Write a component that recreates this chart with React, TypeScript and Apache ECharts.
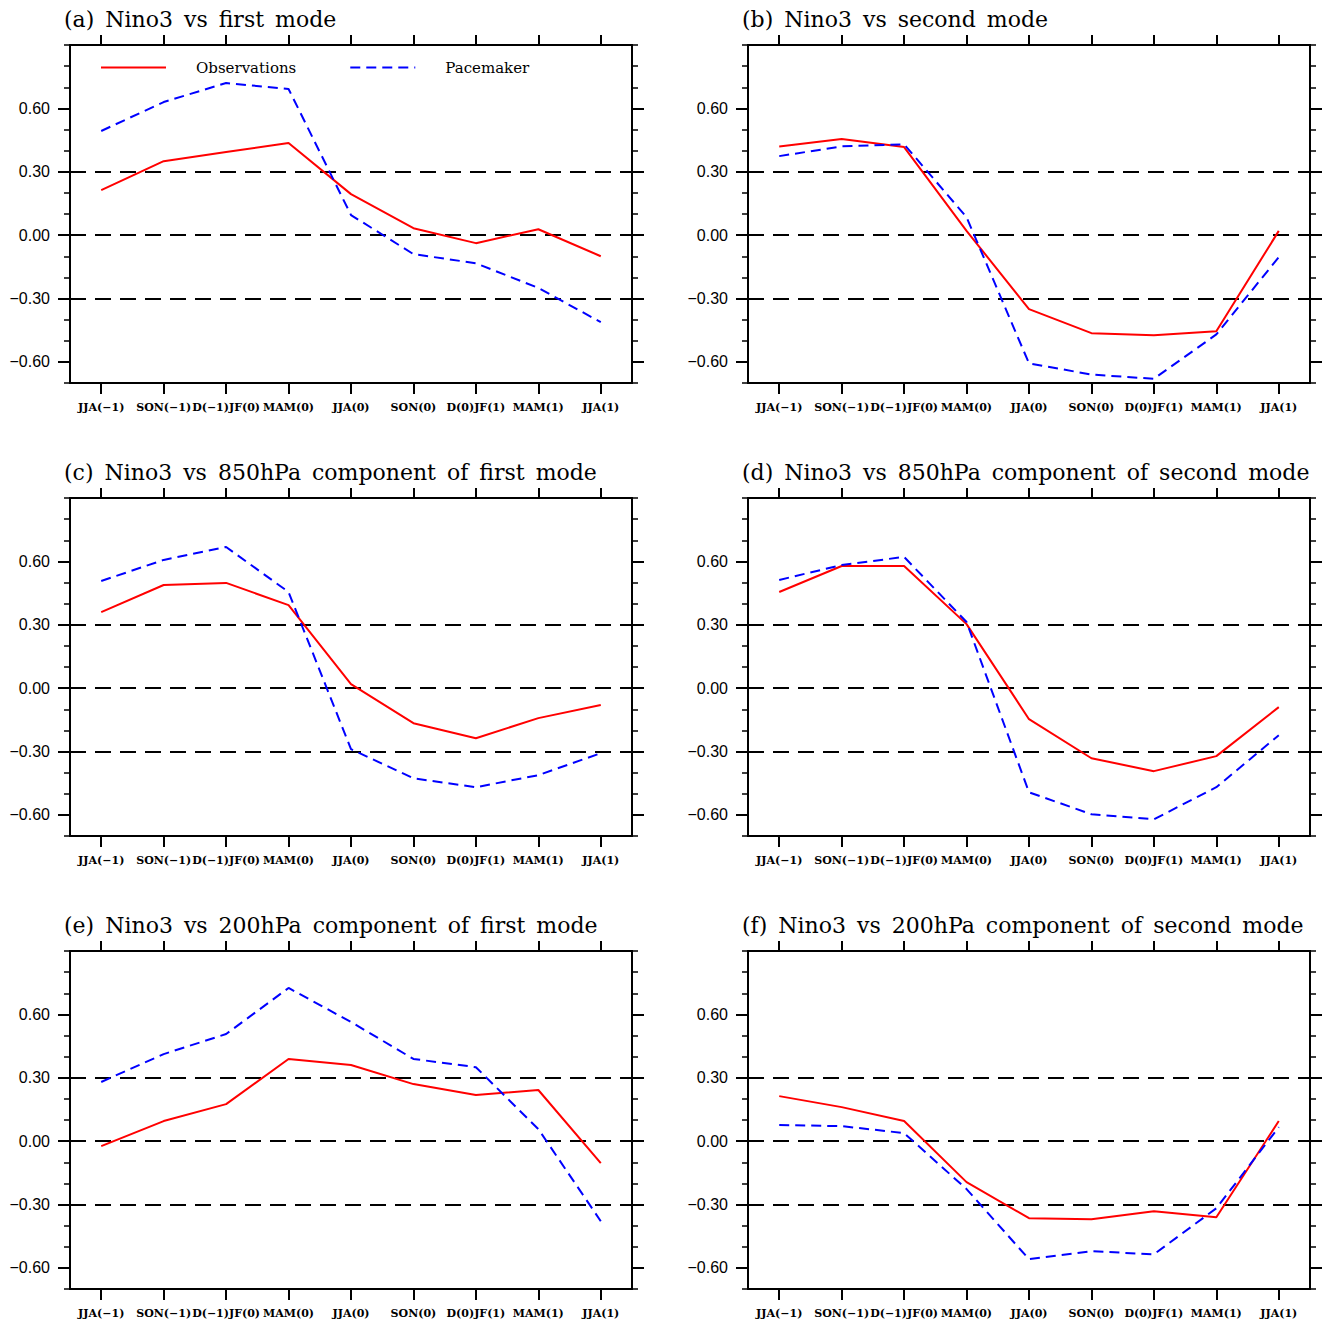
import React, { useEffect, useRef } from "react";
import * as echarts from "echarts";

const categories = ["JJA(\u22121)", "SON(\u22121)", "D(\u22121)JF(0)", "MAM(0)", "JJA(0)", "SON(0)", "D(0)JF(1)", "MAM(1)", "JJA(1)"];
const titles = [
  "(a) Nino3 vs first mode",
  "(b) Nino3 vs second mode",
  "(c) Nino3 vs 850hPa component of first mode",
  "(d) Nino3 vs 850hPa component of second mode",
  "(e) Nino3 vs 200hPa component of first mode",
  "(f) Nino3 vs 200hPa component of second mode",
];
const obsA = [0.213, 0.35, 0.393, 0.436, 0.194, 0.033, -0.038, 0.028, -0.1];
const paceA = [0.493, 0.63, 0.72, 0.692, 0.095, -0.09, -0.133, -0.25, -0.412];
const obsB = [0.42, 0.455, 0.417, 0.02, -0.35, -0.464, -0.474, -0.455, 0.02];
const paceB = [0.374, 0.42, 0.43, 0.085, -0.607, -0.66, -0.68, -0.47, -0.104];
const obsC = [0.36, 0.488, 0.498, 0.393, 0.019, -0.166, -0.237, -0.142, -0.08];
const paceC = [0.507, 0.607, 0.668, 0.455, -0.289, -0.427, -0.469, -0.412, -0.308];
const obsD = [0.455, 0.578, 0.578, 0.303, -0.147, -0.332, -0.393, -0.322, -0.09];
const paceD = [0.512, 0.583, 0.621, 0.313, -0.493, -0.597, -0.621, -0.469, -0.223];
const obsE = [-0.024, 0.095, 0.175, 0.389, 0.36, 0.27, 0.218, 0.242, -0.104];
const paceE = [0.28, 0.412, 0.507, 0.725, 0.564, 0.389, 0.35, 0.057, -0.379];
const obsF = [0.213, 0.161, 0.095, -0.194, -0.365, -0.37, -0.332, -0.36, 0.095];
const paceF = [0.076, 0.071, 0.038, -0.227, -0.559, -0.521, -0.536, -0.318, 0.066];
const observations = [obsA, obsB, obsC, obsD, obsE, obsF];
const pacemaker = [paceA, paceB, paceC, paceD, paceE, paceF];
const majorTicks = [-0.6, -0.3, 0, 0.3, 0.6];
const refLines = [0.3, 0, -0.3];
const yMin = -0.7;
const yMax = 0.9;

export default function App() {
  const ref = useRef<HTMLDivElement>(null);
  useEffect(() => {
    if (!ref.current) return;
    const chart = echarts.init(ref.current, null, { renderer: "svg" });
    const colLeft = [70, 748];
    const rowTop = [45, 498, 951];
    const W = 562;
    const H = 338;
    const grids: any[] = [];
    const xAxes: any[] = [];
    const yAxes: any[] = [];
    const series: any[] = [];
    const title: any[] = [];
    const axisLine = { show: true, onZero: false, lineStyle: { color: "#000", width: 2 } };
    for (let p = 0; p < 6; p++) {
      const c = p % 2;
      const r = Math.floor(p / 2);
      const left = colLeft[c];
      const top = rowTop[r];
      grids.push({ left, top, width: W, height: H, containLabel: false });
      title.push({
        text: titles[p].replace(/ /g, "\u2002"),
        left: left - 6,
        top: top - 37,
        padding: 0,
        textStyle: { fontFamily: "DejaVu Serif", fontSize: 22, fontWeight: "normal", color: "#000" },
      });
      xAxes.push({
        type: "category",
        gridIndex: p,
        position: "bottom",
        data: categories,
        boundaryGap: true,
        axisLine,
        axisTick: { show: true, interval: 0, alignWithLabel: true, length: 11, lineStyle: { color: "#000", width: 2 } },
        axisLabel: {
          interval: 0,
          hideOverlap: false,
          margin: 19,
          fontFamily: "DejaVu Serif",
          fontWeight: "bold",
          fontSize: 11,
          color: "#000",
        },
        splitLine: { show: false },
      });
      xAxes.push({
        type: "category",
        gridIndex: p,
        position: "top",
        data: categories,
        boundaryGap: true,
        axisLine,
        axisTick: { show: true, interval: 0, alignWithLabel: true, length: 10, lineStyle: { color: "#000", width: 2 } },
        axisLabel: { show: false, interval: 0 },
        splitLine: { show: false },
      });
      for (const pos of ["left", "right"]) {
        yAxes.push({
          type: "value",
          gridIndex: p,
          position: pos,
          min: yMin,
          max: yMax,
          interval: 0.1,
          axisLine,
          axisTick: { show: true, length: 6, lineStyle: { color: "#000", width: 1.5 } },
          axisLabel: { show: false },
          splitLine: { show: false },
        });
        yAxes.push({
          type: "value",
          gridIndex: p,
          position: pos,
          min: yMin,
          max: yMax,
          axisLine,
          axisTick: { show: true, length: 12, customValues: majorTicks, lineStyle: { color: "#000", width: 2 } },
          axisLabel: {
            show: pos === "left",
            customValues: majorTicks,
            formatter: (v: number) => (v < 0 ? "\u2212" : "") + Math.abs(v).toFixed(2),
            margin: 20,
            fontFamily: "Liberation Sans",
            fontSize: 16,
            color: "#000",
          },
          splitLine: { show: false },
        });
      }
      series.push({
        name: "Observations",
        type: "line",
        xAxisIndex: 2 * p,
        yAxisIndex: 4 * p + 1,
        data: observations[p],
        symbol: "none",
        lineStyle: { color: "#ff0000", width: 2, type: "solid" },
        itemStyle: { color: "#ff0000" },
        z: 3,
        markLine: {
          silent: true,
          symbol: ["none", "none"],
          label: { show: false },
          lineStyle: { color: "#000", width: 2, type: [16, 9] },
          data: refLines.map((v) => ({ yAxis: v })),
          z: 1,
        },
      });
      series.push({
        name: "Pacemaker",
        type: "line",
        xAxisIndex: 2 * p,
        yAxisIndex: 4 * p + 1,
        data: pacemaker[p],
        symbol: "none",
        lineStyle: { color: "#0000ff", width: 2, type: [10, 6] },
        itemStyle: { color: "#0000ff" },
        z: 4,
      });
    }
    chart.setOption({
      animation: false,
      backgroundColor: "#fff",
      title,
      legend: {
        left: 100,
        top: 60,
        padding: 0,
        itemWidth: 65,
        itemHeight: 14,
        itemGap: 53,
        itemStyle: { opacity: 0 },
        data: ["Observations", "Pacemaker"],
        textStyle: { fontFamily: "DejaVu Serif", fontSize: 15, color: "#000", padding: [0, 0, 0, 25] },
      },
      grid: grids,
      xAxis: xAxes,
      yAxis: yAxes,
      series,
    });
    return () => chart.dispose();
  }, []);
  return <div ref={ref} style={{ position: "absolute", left: 0, top: 0, width: 1326, height: 1324 }} />;
}
